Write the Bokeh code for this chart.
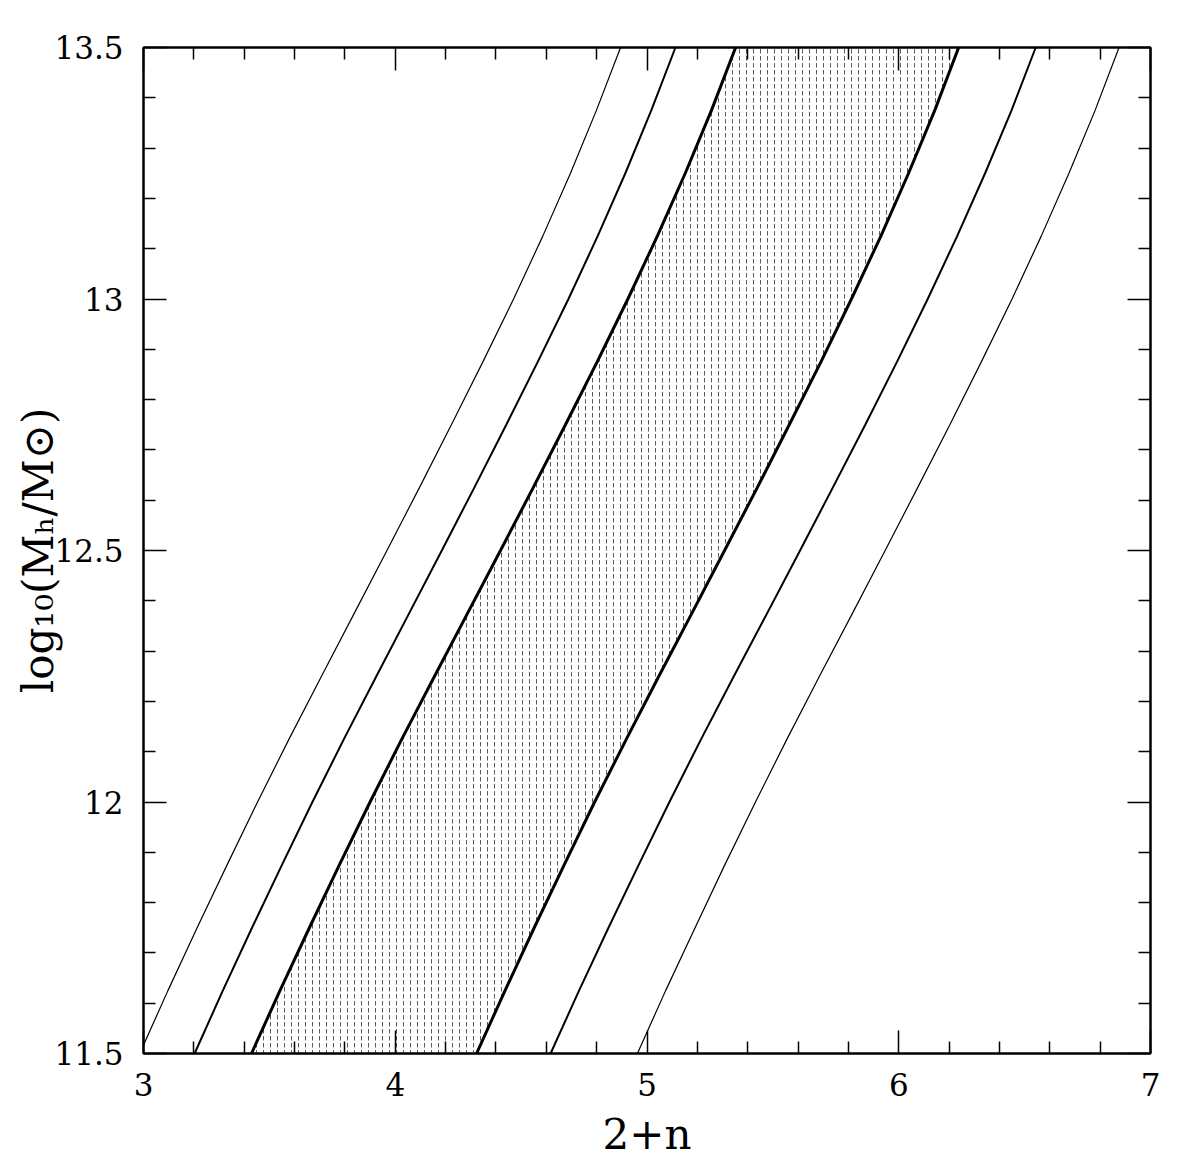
from bokeh.plotting import figure
from bokeh.models import FixedTicker, LinearAxis, Range1d
from bokeh.embed import file_html
from bokeh.resources import INLINE

# y values (log10 Mh) at which curve positions were read
y_levels = [11.5, 11.625, 11.75, 11.875, 12.0, 12.125, 12.25, 12.375, 12.5,
            12.625, 12.75, 12.875, 13.0, 13.125, 13.25, 13.375, 13.5]

# x positions (2+n) of the six curves at each y level
curve_outer_left  = [2.985, 3.097, 3.213, 3.332, 3.453, 3.578, 3.707, 3.837, 3.967,
                     4.096, 4.223, 4.348, 4.470, 4.586, 4.696, 4.799, 4.895]
curve_mid_left    = [3.203, 3.315, 3.431, 3.550, 3.671, 3.796, 3.925, 4.055, 4.185,
                     4.314, 4.441, 4.566, 4.688, 4.804, 4.914, 5.017, 5.113]
curve_in_left     = [3.429, 3.542, 3.659, 3.778, 3.900, 4.026, 4.156, 4.287, 4.418,
                     4.548, 4.676, 4.802, 4.924, 5.041, 5.152, 5.256, 5.352]
curve_in_right    = [4.323, 4.436, 4.552, 4.671, 4.792, 4.918, 5.047, 5.178, 5.308,
                     5.438, 5.565, 5.691, 5.812, 5.929, 6.039, 6.143, 6.238]
curve_mid_right   = [4.617, 4.730, 4.847, 4.967, 5.089, 5.215, 5.345, 5.477, 5.608,
                     5.738, 5.867, 5.993, 6.115, 6.232, 6.343, 6.448, 6.544]
curve_outer_right = [4.962, 5.074, 5.191, 5.309, 5.431, 5.556, 5.685, 5.816, 5.946,
                     6.075, 6.203, 6.328, 6.450, 6.566, 6.676, 6.780, 6.875]

x_major = [3, 4, 5, 6, 7]
x_major_labels = ["3", "4", "5", "6", "7"]
x_minor = [3.2, 3.4, 3.6, 3.8, 4.2, 4.4, 4.6, 4.8, 5.2, 5.4, 5.6, 5.8, 6.2, 6.4, 6.6, 6.8]
y_major = [11.5, 12.0, 12.5, 13.0, 13.5]
y_major_labels = ["11.5", "12", "12.5", "13", "13.5"]
y_minor = [11.6, 11.7, 11.8, 11.9, 12.1, 12.2, 12.3, 12.4, 12.6, 12.7, 12.8, 12.9,
           13.1, 13.2, 13.3, 13.4]

FONT = "DejaVu Serif"

p = figure(width=1188, height=1173, output_backend="svg", toolbar_location=None,
           x_range=Range1d(3, 7), y_range=Range1d(11.5, 13.5),
           x_axis_location=None, y_axis_location=None,
           min_border_left=143, min_border_right=38, min_border_top=47,
           min_border_bottom=120)
p.grid.visible = False
p.outline_line_color = "black"
p.outline_line_width = 2
p.background_fill_color = "white"
p.border_fill_color = "white"

def style_axis(ax):
    ax.major_tick_in = 23
    ax.major_tick_out = 0
    ax.minor_tick_in = 12
    ax.minor_tick_out = 0
    ax.major_tick_line_color = "black"
    ax.minor_tick_line_color = "black"
    ax.major_tick_line_width = 1.5
    ax.minor_tick_line_width = 1.5
    ax.axis_line_color = "black"
    ax.axis_line_width = 2
    ax.major_label_text_font = FONT
    ax.major_label_text_font_size = "31px"
    ax.major_label_text_color = "black"
    ax.axis_label_text_font = FONT
    ax.axis_label_text_font_size = "42px"
    ax.axis_label_text_font_style = "normal"
    ax.axis_label_text_color = "black"

xt = FixedTicker(ticks=x_major, minor_ticks=x_minor)
yt = FixedTicker(ticks=y_major, minor_ticks=y_minor)

bottom = LinearAxis(ticker=xt, axis_label="2+n")
style_axis(bottom)
bottom.major_label_standoff = 19
bottom.axis_label_standoff = 11
bottom.major_label_overrides = {v: s for v, s in zip(x_major, x_major_labels)}
p.add_layout(bottom, "below")

left = LinearAxis(ticker=yt, axis_label="log\u2081\u2080(M\u2095/M\u2299)")
style_axis(left)
left.major_label_standoff = 20
left.axis_label_standoff = -12
left.major_label_overrides = {v: s for v, s in zip(y_major, y_major_labels)}
p.add_layout(left, "left")

top = LinearAxis(ticker=FixedTicker(ticks=x_major, minor_ticks=x_minor))
style_axis(top)
top.major_label_standoff = 0
top.major_label_overrides = {v: "" for v in x_major}
p.add_layout(top, "above")

right = LinearAxis(ticker=FixedTicker(ticks=y_major, minor_ticks=y_minor))
style_axis(right)
right.major_label_standoff = 0
right.major_label_overrides = {v: "" for v in y_major}
p.add_layout(right, "right")

# shaded band between the inner pair
p.harea(x1=curve_in_left, x2=curve_in_right, y=y_levels,
        fill_color="white", fill_alpha=0.0,
        hatch_pattern=":", hatch_color="#4a4a4a", hatch_scale=7, hatch_weight=1,
        hatch_alpha=0.9)

p.line(curve_outer_left, y_levels, line_color="black", line_width=1.2)
p.line(curve_mid_left, y_levels, line_color="black", line_width=2)
p.line(curve_in_left, y_levels, line_color="black", line_width=3)
p.line(curve_in_right, y_levels, line_color="black", line_width=3)
p.line(curve_mid_right, y_levels, line_color="black", line_width=2)
p.line(curve_outer_right, y_levels, line_color="black", line_width=1.2)

open("out.html", "w").write(file_html(p, INLINE))
